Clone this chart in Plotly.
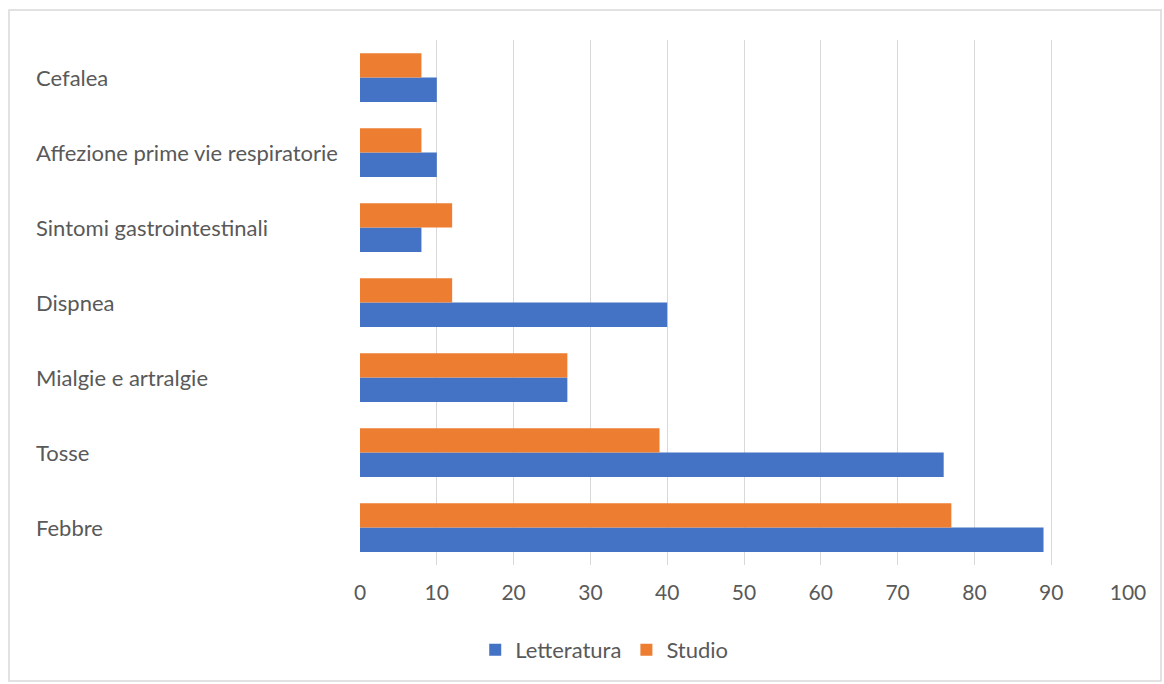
import plotly.graph_objects as go

categories = ["Febbre", "Tosse", "Mialgie e artralgie", "Dispnea",
              "Sintomi gastrointestinali", "Affezione prime vie respiratorie", "Cefalea"]
letteratura = [89, 76, 27, 40, 8, 10, 10]
studio = [77, 39, 27, 12, 12, 8, 8]
x_ticks = [0, 10, 20, 30, 40, 50, 60, 70, 80, 90, 100]

TXT = "#595959"
FONT = "Lato"

fig = go.Figure()
fig.add_trace(go.Bar(y=categories, x=letteratura, orientation="h", name="Letteratura",
                     marker=dict(color="#4472C4", line=dict(width=0))))
fig.add_trace(go.Bar(y=categories, x=studio, orientation="h", name="Studio",
                     marker=dict(color="#ED7D31", line=dict(width=0))))

annotations = [dict(x=-0.4245, y=c, xref="paper", yref="y", text=c, showarrow=False,
                    xanchor="left", yanchor="middle",
                    font=dict(family=FONT, size=22, color=TXT)) for c in categories]

fig.update_layout(
    width=1164, height=684,
    margin=dict(l=360, r=36, t=40, b=119),
    paper_bgcolor="white", plot_bgcolor="white",
    barmode="group", bargap=0.35, bargroupgap=0,
    font=dict(family=FONT, size=20, color=TXT),
    xaxis=dict(range=[0, 100], tickvals=x_ticks, showgrid=True, gridcolor="#d9d9d9",
               gridwidth=1, zeroline=False, showline=False, ticks="",
               tickfont=dict(family=FONT, size=21, color=TXT), ticklabelstandoff=13),
    yaxis=dict(categoryorder="array", categoryarray=categories, showticklabels=False,
               showgrid=False, zeroline=False, showline=False, ticks=""),
    legend=dict(orientation="h", x=0.318, xanchor="center", y=-0.162, yanchor="middle",
                font=dict(family=FONT, size=22, color=TXT), traceorder="normal",
                itemwidth=30),
    annotations=annotations,
    shapes=[dict(type="rect", xref="paper", yref="paper",
                 x0=(9 - 360) / 768, x1=(1161 - 360) / 768,
                 y0=(565 - 681) / 525, y1=(565 - 10) / 525,
                 line=dict(color="#d9d9d9", width=1.5), fillcolor="rgba(0,0,0,0)",
                 layer="below")],
)

fig.write_html("out.html")
